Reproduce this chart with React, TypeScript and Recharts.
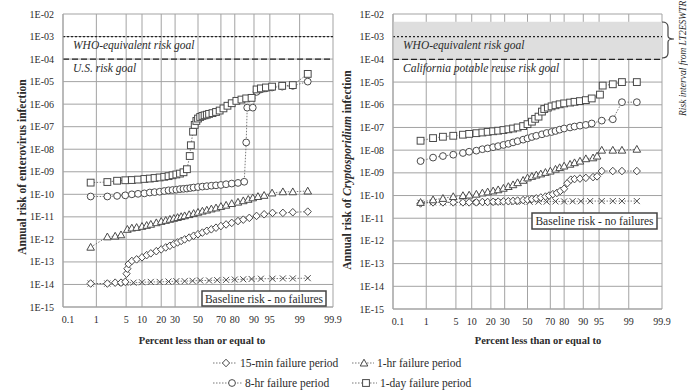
import React from 'react';
import { ScatterChart, Scatter, XAxis, YAxis, CartesianGrid, ReferenceLine, ReferenceArea } from 'recharts';

type Pt = [number, number];

// ---------- axis ticks ----------
const PERCENT_TICKS = [0.1, 1, 5, 10, 20, 30, 50, 70, 80, 90, 95, 99, 99.9];
const PERCENT_LABELS = ['0.1', '1', '5', '10', '20', '30', '50', '70', '80', '90', '95', '99', '99.9'];
const RISK_TICKS = [1e-15, 1e-14, 1e-13, 1e-12, 1e-11, 1e-10, 1e-9, 1e-8, 1e-7, 1e-6, 1e-5, 1e-4, 1e-3, 1e-2];

// ---------- left panel: enterovirus  [percent, annual risk] ----------
const ENT_15MIN: Pt[] = [
  [0.7, 1.1e-14], [1.9, 1.1e-14], [2.9, 1.2e-14], [3.9, 1.2e-14], [4.8, 1.3e-14], [5.1, 3e-14], [5.3, 5e-14],
  [5.6, 8e-14], [6.5, 1.1e-13], [8, 1.3e-13], [10, 1.6e-13], [12, 2e-13], [14, 2.4e-13], [17, 3e-13], [20, 3.6e-13],
  [23, 4.4e-13], [26, 5.2e-13], [29, 6.2e-13], [32, 7.3e-13], [35, 8.5e-13], [38, 1e-12], [42, 1.2e-12],
  [46, 1.45e-12], [50, 1.7e-12], [54, 2e-12], [58, 2.4e-12], [62, 2.8e-12], [66, 3.3e-12], [70, 3.9e-12],
  [74, 4.6e-12], [78, 5.4e-12], [82, 6.5e-12], [85, 7.5e-12], [88, 9e-12], [91, 1.1e-11], [93.5, 1.3e-11],
  [95.6, 1.5e-11], [97.4, 1.5e-11], [98.5, 1.6e-11], [99.4, 1.7e-11],
];
const ENT_1HR: Pt[] = [
  [0.7, 4.5e-13], [1.9, 1.3e-12], [2.9, 1.4e-12], [3.9, 1.6e-12], [5.3, 2.8e-12], [6.5, 3.2e-12], [8, 3.4e-12],
  [10, 3.8e-12], [12, 4.2e-12], [14, 4.7e-12], [17, 5.5e-12], [20, 6.3e-12], [23, 7e-12], [26, 7.8e-12],
  [29, 8.6e-12], [32, 9.4e-12], [35, 1.03e-11], [38, 1.12e-11], [42, 1.26e-11], [46, 1.42e-11], [50, 1.6e-11],
  [54, 1.8e-11], [58, 2e-11], [62, 2.25e-11], [66, 2.5e-11], [70, 2.9e-11], [74, 3.3e-11], [78, 3.9e-11],
  [82, 4.5e-11], [85, 5.2e-11], [87.5, 6e-11], [89.5, 7e-11], [91.5, 8e-11], [93.5, 9e-11], [95.5, 1.15e-10],
  [97.4, 1.3e-10], [98.5, 1.3e-10], [99.4, 1.4e-10],
];
const ENT_8HR: Pt[] = [
  [0.7, 8e-11], [1.9, 8e-11], [3.2, 8.5e-11], [4.8, 9e-11], [6.5, 1e-10], [8.5, 1.05e-10], [11, 1.1e-10],
  [13.5, 1.2e-10], [16, 1.25e-10], [19, 1.3e-10], [22, 1.4e-10], [25, 1.5e-10], [28, 1.55e-10], [31, 1.6e-10],
  [34, 1.7e-10], [37, 1.75e-10], [40, 1.8e-10], [43, 1.9e-10], [46, 2e-10], [50, 2.1e-10], [54, 2.2e-10],
  [58, 2.3e-10], [62, 2.4e-10], [66, 2.5e-10], [70, 2.6e-10], [74, 2.8e-10], [78, 3e-10], [82, 3.2e-10],
  [85.5, 3.6e-10], [86.5, 2e-8], [87, 7e-7], [89.5, 7e-7], [91, 3.5e-6], [92.5, 4.5e-6], [94, 5e-6],
  [95.5, 5.5e-6], [97.3, 6e-6], [98.5, 6.5e-6], [99.4, 1e-5],
];
const ENT_1DAY: Pt[] = [
  [0.7, 3.3e-10], [1.9, 3.5e-10], [3.2, 4e-10], [4.8, 4.2e-10], [6.5, 4.3e-10], [8.5, 4.5e-10], [11, 4.8e-10],
  [13.5, 5e-10], [16, 5.3e-10], [19, 5.6e-10], [22, 6e-10], [25, 6.4e-10], [28, 7e-10], [31, 7.6e-10],
  [34, 8.3e-10], [37, 9.5e-10], [40, 1.3e-9], [42.5, 5e-9], [43.5, 1.5e-8], [45.5, 6e-8], [47, 1.2e-7],
  [48.5, 1.8e-7], [50, 2.3e-7], [52, 2.7e-7], [54, 3e-7], [56, 3.2e-7], [58, 3.4e-7], [60, 3.7e-7], [63, 4e-7],
  [66, 4.5e-7], [69, 5.2e-7], [72, 6.5e-7], [75, 8.5e-7], [78, 1.1e-6], [81, 1.4e-6], [84, 1.6e-6],
  [86.5, 1.8e-6], [89, 1.9e-6], [91, 4.5e-6], [92.5, 5e-6], [94, 5.5e-6], [95.5, 6e-6], [97.3, 6.5e-6],
  [98.5, 7e-6], [99.4, 2.2e-5],
];
const ENT_BASE: Pt[] = [
  [0.7, 1.1e-14], [1.9, 1.1e-14], [3.2, 1.15e-14], [4.8, 1.2e-14], [7, 1.2e-14], [10, 1.25e-14], [14, 1.3e-14],
  [19, 1.3e-14], [25, 1.35e-14], [31, 1.4e-14], [38, 1.4e-14], [45, 1.45e-14], [52, 1.5e-14], [60, 1.5e-14],
  [67, 1.55e-14], [74, 1.6e-14], [80, 1.65e-14], [85, 1.7e-14], [89, 1.75e-14], [92.5, 1.8e-14],
  [95.6, 1.8e-14], [97.4, 1.85e-14], [98.5, 1.85e-14], [99.4, 1.9e-14],
];

// ---------- right panel: Cryptosporidium ----------
const CRY_15MIN: Pt[] = [
  [0.7, 4.5e-11], [1.5, 5e-11], [2.6, 5e-11], [4.4, 5e-11], [6.9, 5e-11], [9, 5e-11], [12, 5e-11], [15, 5.2e-11],
  [18, 5.2e-11], [21.5, 5.3e-11], [25, 5.4e-11], [29, 5.5e-11], [33, 5.6e-11], [37, 5.8e-11], [41, 6e-11],
  [46, 6.3e-11], [50, 6.6e-11], [54, 7e-11], [58, 7.5e-11], [62, 8.2e-11], [66, 9e-11], [69, 1e-10],
  [72, 1.15e-10], [75, 1.3e-10], [77.5, 1.6e-10], [80, 2e-10], [82, 3.5e-10], [84, 5e-10], [86, 5.3e-10],
  [88.6, 5.6e-10], [91, 6e-10], [93.4, 6.5e-10], [94.5, 7e-10], [95.6, 1.2e-9], [97.5, 1.2e-9], [98.5, 1.2e-9],
  [99.4, 1.2e-9],
];
const CRY_1HR: Pt[] = [
  [0.7, 5e-11], [1.5, 6.5e-11], [2.6, 7.5e-11], [4.4, 9e-11], [6.9, 1e-10], [9, 1.05e-10], [12, 1.15e-10],
  [15, 1.3e-10], [18, 1.45e-10], [21.5, 1.6e-10], [25, 1.8e-10], [29, 2.1e-10], [33, 2.5e-10], [37, 3e-10],
  [41, 3.7e-10], [46, 4.7e-10], [50, 6e-10], [54, 7e-10], [58, 8e-10], [62, 9e-10], [66, 1.05e-9], [70, 1.2e-9],
  [74, 1.45e-9], [77, 1.7e-9], [80, 2e-9], [83.6, 2.4e-9], [86, 2.8e-9], [88.6, 3.3e-9], [91, 4.2e-9],
  [93.4, 4.6e-9], [94.5, 5.5e-9], [95.6, 1e-8], [97.5, 1e-8], [98.5, 1e-8], [99.4, 1.1e-8],
];
const CRY_8HR: Pt[] = [
  [0.7, 3.3e-9], [1.5, 4.7e-9], [2.6, 5.5e-9], [4.4, 6.3e-9], [6.9, 7.5e-9], [9, 8.5e-9], [12, 9.5e-9],
  [15, 1.1e-8], [18, 1.2e-8], [21.5, 1.35e-8], [25, 1.5e-8], [29, 1.7e-8], [33, 1.9e-8], [37, 2.2e-8],
  [41, 2.5e-8], [46, 2.9e-8], [50, 3.3e-8], [54, 3.8e-8], [58, 4.3e-8], [63, 5e-8], [67, 5.7e-8], [71, 6.3e-8],
  [74, 7e-8], [77, 8e-8], [80, 9e-8], [83.6, 1e-7], [86, 1.1e-7], [88.6, 1.2e-7], [91, 1.3e-7], [93, 1.5e-7],
  [95.6, 2e-7], [97.5, 2.3e-7], [98.5, 1.3e-6], [99.4, 1.3e-6],
];
const CRY_1DAY: Pt[] = [
  [0.7, 2.6e-8], [1.5, 3.4e-8], [2.6, 3.9e-8], [4.4, 4.3e-8], [6.9, 4.8e-8], [9, 5.2e-8], [12, 5.6e-8],
  [15, 6e-8], [18, 6.4e-8], [21.5, 6.8e-8], [25, 7.2e-8], [29, 7.7e-8], [33, 8.3e-8], [37, 9e-8], [41, 1e-7],
  [46, 1.15e-7], [50, 1.4e-7], [54, 1.8e-7], [57, 2.4e-7], [60, 3e-7], [63, 5e-7], [65, 6.5e-7], [68, 7.5e-7],
  [71, 8.5e-7], [74, 9.5e-7], [77, 1.05e-6], [80, 1.15e-6], [83.6, 1.25e-6], [86, 1.35e-6], [88.6, 1.45e-6],
  [91, 1.6e-6], [93, 1.9e-6], [95.2, 2.8e-6], [95.8, 7e-6], [97.5, 8e-6], [98.5, 1e-5], [99.4, 1e-5],
];
const CRY_BASE: Pt[] = [
  [0.7, 4.8e-11], [1.5, 5e-11], [2.6, 5e-11], [4.4, 5e-11], [6.9, 5e-11], [10, 5e-11], [14, 5e-11],
  [19, 5.1e-11], [25, 5.1e-11], [31, 5.2e-11], [38, 5.2e-11], [45, 5.3e-11], [52, 5.3e-11], [60, 5.4e-11],
  [67, 5.4e-11], [74, 5.5e-11], [80, 5.5e-11], [85, 5.6e-11], [89, 5.6e-11], [92.5, 5.7e-11], [95.6, 5.7e-11],
  [97.5, 5.7e-11], [98.5, 5.7e-11], [99.4, 5.7e-11],
];

// ---------- normal-probability x scale ----------
function probit(p: number): number {
  const a = [-3.969683028665376e1, 2.209460984245205e2, -2.759285104469687e2, 1.38357751867269e2, -3.066479806614716e1, 2.506628277459239];
  const b = [-5.447609879822406e1, 1.615858368580409e2, -1.556989798598866e2, 6.680131188771972e1, -1.328068155288572e1];
  const c = [-7.784894002430293e-3, -3.223964580411365e-1, -2.400758277161838, -2.549732539343734, 4.374664141464968, 2.938163982698783];
  const d = [7.784695709041462e-3, 3.224671290700398e-1, 2.445134137142996, 3.754408661907416];
  const pl = 0.02425;
  if (p < pl) {
    const q = Math.sqrt(-2 * Math.log(p));
    return (((((c[0] * q + c[1]) * q + c[2]) * q + c[3]) * q + c[4]) * q + c[5]) / ((((d[0] * q + d[1]) * q + d[2]) * q + d[3]) * q + 1);
  }
  if (p <= 1 - pl) {
    const q = p - 0.5;
    const r = q * q;
    return ((((((a[0] * r + a[1]) * r + a[2]) * r + a[3]) * r + a[4]) * r + a[5]) * q) / (((((b[0] * r + b[1]) * r + b[2]) * r + b[3]) * r + b[4]) * r + 1);
  }
  const q = Math.sqrt(-2 * Math.log(1 - p));
  return -(((((c[0] * q + c[1]) * q + c[2]) * q + c[3]) * q + c[4]) * q + c[5]) / ((((d[0] * q + d[1]) * q + d[2]) * q + d[3]) * q + 1);
}
const X_TICKS = PERCENT_TICKS.map((p) => probit(p / 100));
const Z_MIN = X_TICKS[0];
const Z_MAX = X_TICKS[X_TICKS.length - 1];
const toRows = (pts: Pt[]) => pts.map(([p, v]) => ({ z: probit(p / 100), v }));

const FONT = "'Liberation Serif', 'Times New Roman', serif";
const MARK = '#4a4a4a';
const GRID = '#a3a3a3';
const TXT = '#2b2b2b';

type Kind = 'diamond' | 'triangle' | 'circle' | 'square' | 'x';
function Marker({ kind, cx, cy }: { kind: Kind; cx: number; cy: number }) {
  const common = { stroke: MARK, strokeWidth: 1, fill: '#fff' };
  if (kind === 'square') return <rect x={cx - 3.4} y={cy - 3.4} width={6.8} height={6.8} {...common} />;
  if (kind === 'circle') return <circle cx={cx} cy={cy} r={3.4} {...common} />;
  if (kind === 'triangle')
    return <polygon points={`${cx},${cy - 3.8} ${cx + 3.8},${cy + 3} ${cx - 3.8},${cy + 3}`} {...common} />;
  if (kind === 'diamond')
    return <polygon points={`${cx},${cy - 3.8} ${cx + 3.6},${cy} ${cx},${cy + 3.8} ${cx - 3.6},${cy}`} {...common} />;
  return (
    <g stroke={MARK} strokeWidth={1}>
      <line x1={cx - 3} y1={cy - 3} x2={cx + 3} y2={cy + 3} />
      <line x1={cx - 3} y1={cy + 3} x2={cx + 3} y2={cy - 3} />
    </g>
  );
}
const shapeOf = (kind: Kind) => (props: any) => {
  if (props == null || props.cx == null || props.cy == null) return <g />;
  return <Marker kind={kind} cx={props.cx} cy={props.cy} />;
};

const fmtRisk = (v: number) => {
  const e = Math.round(Math.log10(v));
  const a = Math.abs(e);
  return `1E-${a < 10 ? '0' + a : a}`;
};

const XTick = (props: any) => {
  const { x, y, payload } = props;
  const i = X_TICKS.findIndex((t) => Math.abs(t - payload.value) < 1e-6);
  const label = i >= 0 ? PERCENT_LABELS[i] : '';
  const shift = i === 0 ? 5 : 0;
  return (
    <text x={x + shift} y={y} dy="0.71em" textAnchor="middle" fontFamily={FONT} fontSize={10} fill={TXT}>
      {label}
    </text>
  );
};

type SeriesDef = { name: string; kind: Kind; pts: Pt[] };

function Panel(props: {
  left: number;
  width: number;
  yAxisWidth: number;
  marginRight: number;
  marginBottom: number;
  series: SeriesDef[];
  band?: [number, number];
}) {
  const { left, width, yAxisWidth, marginRight, marginBottom, series, band } = props;
  const lineStyle = { stroke: '#6a6a6a', strokeWidth: 0.9, strokeDasharray: '1.5 1.5' };
  return (
    <div style={{ position: 'absolute', left, top: 0 }}>
      <ScatterChart width={width} height={391} margin={{ top: 14, right: marginRight, bottom: marginBottom, left: 0 }}>
        <CartesianGrid stroke={GRID} strokeWidth={1} />
        <XAxis
          type="number"
          dataKey="z"
          domain={[Z_MIN, Z_MAX]}
          ticks={X_TICKS}
          interval={0}
          allowDataOverflow
          height={30}
          tickSize={0}
          tickMargin={9}
          tick={<XTick />}
          axisLine={{ stroke: GRID }}
          tickLine={false}
        />
        <YAxis
          type="number"
          dataKey="v"
          scale="log"
          domain={[1e-15, 1e-2]}
          ticks={RISK_TICKS}
          interval={0}
          allowDataOverflow
          width={yAxisWidth}
          tickSize={0}
          tickMargin={9}
          tickFormatter={fmtRisk}
          tick={{ fontFamily: FONT, fontSize: 10, fill: TXT }}
          axisLine={{ stroke: GRID }}
          tickLine={false}
        />
        {band && (
          <ReferenceArea y1={band[0]} y2={band[1]} fill="#dedede" fillOpacity={1} stroke="none" ifOverflow="hidden" />
        )}
        <ReferenceLine y={1e-3} stroke="#222" strokeWidth={1.3} strokeDasharray="2 2" />
        <ReferenceLine y={1e-4} stroke="#222" strokeWidth={1.3} strokeDasharray="6 3" />
        {series.map((s) => (
          <Scatter
            key={s.name}
            name={s.name}
            data={toRows(s.pts)}
            line={lineStyle}
            lineType="joint"
            shape={shapeOf(s.kind)}
            isAnimationActive={false}
          />
        ))}
      </ScatterChart>
    </div>
  );
}

const LEFT_SERIES: SeriesDef[] = [
  { name: 'Baseline', kind: 'x', pts: ENT_BASE },
  { name: '15-min failure period', kind: 'diamond', pts: ENT_15MIN },
  { name: '1-hr failure period', kind: 'triangle', pts: ENT_1HR },
  { name: '8-hr failure period', kind: 'circle', pts: ENT_8HR },
  { name: '1-day failure period', kind: 'square', pts: ENT_1DAY },
];
const RIGHT_SERIES: SeriesDef[] = [
  { name: 'Baseline', kind: 'x', pts: CRY_BASE },
  { name: '15-min failure period', kind: 'diamond', pts: CRY_15MIN },
  { name: '1-hr failure period', kind: 'triangle', pts: CRY_1HR },
  { name: '8-hr failure period', kind: 'circle', pts: CRY_8HR },
  { name: '1-day failure period', kind: 'square', pts: CRY_1DAY },
];

function LegendItem({ x, y, kind, label, lineEnd, markX }: { x: number; y: number; kind: Kind; label: string; lineEnd: number; markX: number }) {
  return (
    <g>
      <line x1={x} y1={y} x2={lineEnd} y2={y} stroke="#6a6a6a" strokeWidth={0.9} strokeDasharray="1.5 1.5" />
      <Marker kind={kind} cx={markX} cy={y} />
      <text x={lineEnd + 3} y={y + 4} fontFamily={FONT} fontSize={11.5} fill={TXT}>
        {label}
      </text>
    </g>
  );
}

export default function App() {
  return (
    <div style={{ position: 'absolute', left: 0, top: 0, width: 688, height: 391, background: '#fff', overflow: 'hidden' }}>
      <Panel left={0} width={345} yAxisWidth={63} marginRight={12} marginBottom={54} series={LEFT_SERIES} />
      <Panel left={340} width={348} yAxisWidth={53} marginRight={26} marginBottom={52} series={RIGHT_SERIES} band={[1e-4, 4.5e-3]} />
      <svg width={688} height={391} style={{ position: 'absolute', left: 0, top: 0, pointerEvents: 'none' }}>
        {/* goal labels */}
        <g fontFamily={FONT} fontSize={11.5} fontStyle="italic" fill={TXT}>
          <text x={73} y={49}>WHO-equivalent risk goal</text>
          <text x={73} y={72}>U.S. risk goal</text>
          <text x={403} y={49}>WHO-equivalent risk goal</text>
          <text x={403} y={72}>California potable reuse risk goal</text>
        </g>
        {/* baseline boxes */}
        <rect x={202} y={291} width={124} height={15} fill="#fff" stroke="#444" strokeWidth={1.5} />
        <text x={264} y={302.5} textAnchor="middle" fontFamily={FONT} fontSize={11.5} fill={TXT}>
          Baseline risk - no failures
        </text>
        <rect x={532} y={213} width={125} height={16} fill="#fff" stroke="#444" strokeWidth={1.5} />
        <text x={594.5} y={225} textAnchor="middle" fontFamily={FONT} fontSize={11.5} fill={TXT}>
          Baseline risk - no failures
        </text>
        {/* axis titles */}
        <g fontFamily={FONT} fontWeight="bold" fill={TXT}>
          <text x={202} y={344} textAnchor="middle" fontSize={10.5}>Percent less than or equal to</text>
          <text x={538} y={344} textAnchor="middle" fontSize={10.5}>Percent less than or equal to</text>
          <text x={26} y={167} textAnchor="middle" fontSize={11.5} transform="rotate(-90 26 167)">
            Annual risk of enterovirus infection
          </text>
          <text x={351} y={170} textAnchor="middle" fontSize={11.5} transform="rotate(-90 351 170)">
            Annual risk of <tspan fontStyle="italic">Cryptosporidium</tspan> infection
          </text>
        </g>
        {/* brace + LT2ESWTR label */}
        <path d="M662,22 Q668,22 668,27 V36 Q668,39 674,39 Q668,39 668,42 V53 Q668,58 662,58" fill="none" stroke="#444" strokeWidth={1.2} />
        <text x={686} y={116} transform="rotate(-90 686 116)" fontFamily={FONT} fontSize={9.5} fontStyle="italic" fill={TXT}>
          Risk interval from LT2ESWTR
        </text>
        {/* legend */}
        <LegendItem x={213} y={363} lineEnd={237} markX={226} kind="diamond" label="15-min failure period" />
        <LegendItem x={352} y={363} lineEnd={374} markX={364} kind="triangle" label="1-hr failure period" />
        <LegendItem x={213} y={383} lineEnd={242} markX={232} kind="circle" label="8-hr failure period" />
        <LegendItem x={352} y={383} lineEnd={377} markX={366} kind="square" label="1-day failure period" />
      </svg>
    </div>
  );
}
